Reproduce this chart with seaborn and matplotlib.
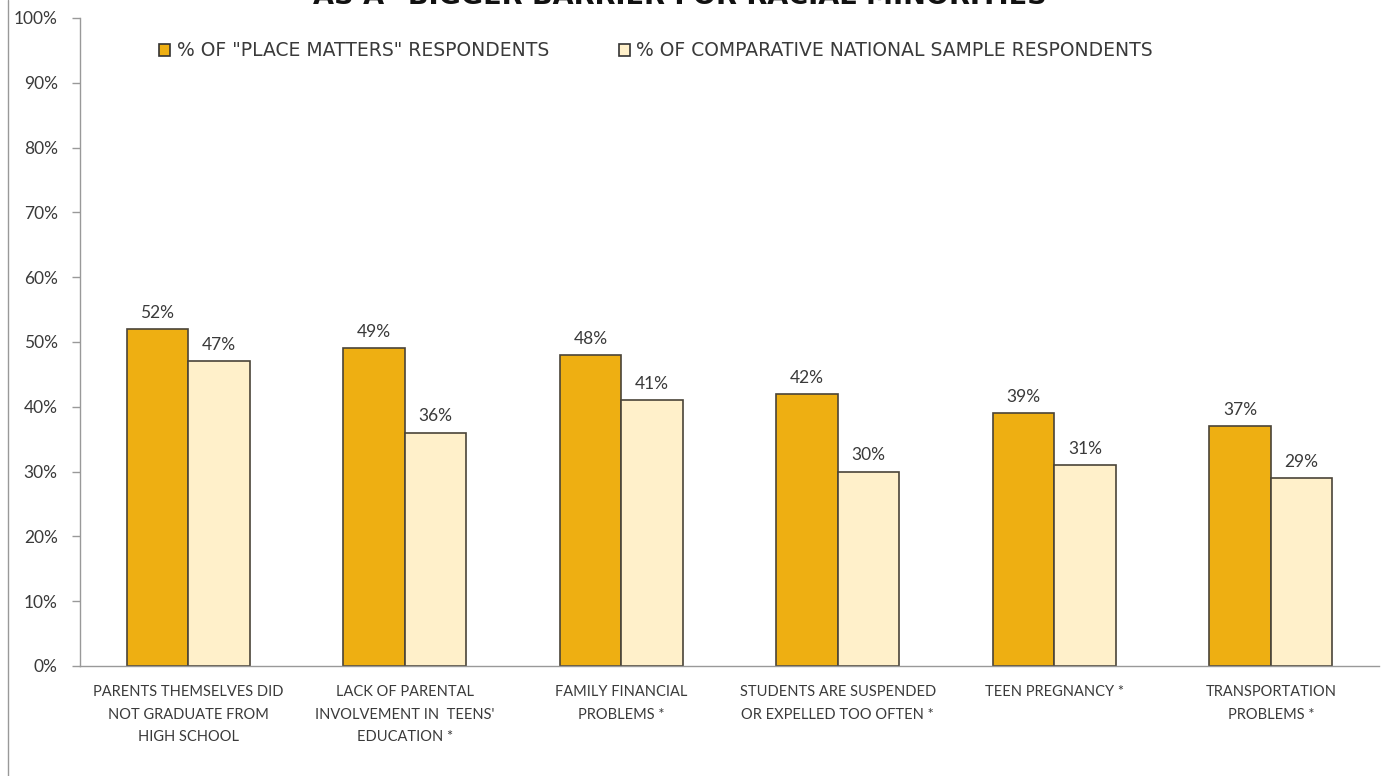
import matplotlib
matplotlib.use("Agg")
import matplotlib.pyplot as plt
import seaborn as sns
import pandas as pd
import numpy as np

categories = [
    "PARENTS THEMSELVES DID\nNOT GRADUATE FROM\nHIGH SCHOOL",
    "LACK OF PARENTAL\nINVOLVEMENT IN  TEENS'\nEDUCATION *",
    "FAMILY FINANCIAL\nPROBLEMS *",
    "STUDENTS ARE SUSPENDED\nOR EXPELLED TOO OFTEN *",
    "TEEN PREGNANCY *",
    "TRANSPORTATION\nPROBLEMS *",
]
series_names = ['% OF "PLACE MATTERS" RESPONDENTS', '% OF COMPARATIVE NATIONAL SAMPLE RESPONDENTS']
place_matters = [52, 49, 48, 42, 39, 37]
national = [47, 36, 41, 30, 31, 29]
yticks = [0, 10, 20, 30, 40, 50, 60, 70, 80, 90, 100]
title = 'AS A "BIGGER BARRIER FOR RACIAL MINORITIES"'

df = pd.DataFrame({
    "category": categories * 2,
    "series": [series_names[0]] * 6 + [series_names[1]] * 6,
    "value": place_matters + national,
})

sns.set_theme(style="white")
plt.rcParams["font.family"] = ["Lato", "DejaVu Sans"]
txt = "#3a3a3a"

fig = plt.figure(figsize=(13.81, 7.76), dpi=100)
ax = fig.add_axes([80 / 1381, 110 / 776, 1299 / 1381, 648 / 776])

sns.barplot(data=df, x="category", y="value", hue="series", order=categories,
            hue_order=series_names, palette=["#EEAF12", "#FFF0CA"], saturation=1,
            width=0.57, edgecolor="#4a4438", linewidth=1.2, ax=ax, legend=True)

for cont in ax.containers:
    ax.bar_label(cont, labels=[f"{v:.0f}%" for v in cont.datavalues], padding=6,
                 fontsize=12.5, color=txt)

ax.set_ylim(0, 100)
ax.set_xlim(-0.5, len(categories) - 0.5)
ax.set_yticks(yticks)
ax.set_yticklabels([f"{t}%" for t in yticks], fontsize=12.5, color=txt)
ax.set_xticks(range(len(categories)))
ax.set_xticklabels(categories, fontsize=10.5, color=txt, linespacing=1.75)
ax.set_xticks(np.arange(-0.5, len(categories), 1.0), minor=True)
ax.tick_params(axis="x", which="major", length=0, pad=14)
ax.tick_params(axis="x", which="minor", length=6, color="#999999", width=1)
ax.tick_params(axis="y", which="major", length=6, color="#999999", width=1, left=True, pad=10)
ax.set_xlabel("")
ax.set_ylabel("")
for s in ["top", "right"]:
    ax.spines[s].set_visible(False)
for s in ["left", "bottom"]:
    ax.spines[s].set_color("#999999")
    ax.spines[s].set_linewidth(1)

leg = ax.legend(loc="upper left", bbox_to_anchor=(0.048, 0.99), ncol=2, frameon=False,
                prop={"family": "DejaVu Sans", "size": 13.5},
                handlelength=0.6, handleheight=0.6, handletextpad=0.35,
                columnspacing=3.7, labelcolor=txt)
for h in leg.legend_handles:
    h.set_edgecolor("#333333")
    h.set_linewidth(1.2)

fig.text(687 / 1381, 1.004, title, ha="center", va="center", fontsize=19.5,
         fontweight="bold", color="#111111",
         family=["DejaVu Sans"])

fig.add_artist(plt.Line2D([8 / 1381, 8 / 1381], [0, 1], transform=fig.transFigure,
                          color="#999999", linewidth=1))

fig.savefig("out.png", dpi=100)
